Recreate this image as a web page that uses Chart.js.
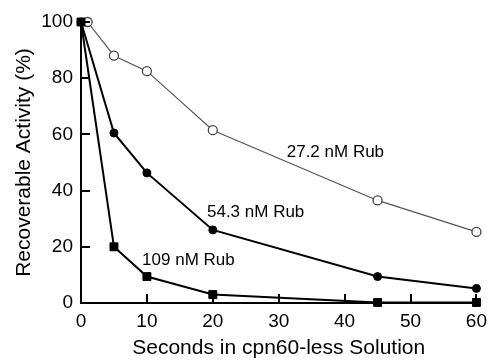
<!DOCTYPE html>
<html>
<head>
<meta charset="utf-8">
<script src="https://cdn.jsdelivr.net/npm/chart.js@4/dist/chart.umd.min.js"></script>
<style>
html,body{margin:0;padding:0;background:#fff;}
#wrap{width:494px;height:361px;}
</style>
</head>
<body>
<div id="wrap"><canvas id="c" width="494" height="361"></canvas></div>
<script>
// ---- data ----
const seconds27 = [1, 5, 10, 20, 45, 60];
const activity27 = [100, 88, 82.5, 61.5, 36.5, 25.3];
const seconds54 = [0, 5, 10, 20, 45, 60];
const activity54 = [100, 60.5, 46.3, 26, 9.4, 5.2];
const seconds109 = [0, 5, 10, 20, 45, 60];
const activity109 = [100, 20, 9.4, 3, 0.2, 0.2];
const xTicks = [0, 10, 20, 30, 40, 50, 60];
const yTicks = [0, 20, 40, 60, 80, 100];
const seriesLabels = ['27.2 nM Rub', '54.3 nM Rub', '109 nM Rub'];
// label anchor positions in data units (x, y)
const labelX = [38.6, 26.5, 16.3];
const labelY = [53.7, 32.4, 15.3];

const toXY = (xs, ys) => xs.map((x, i) => ({x: x, y: ys[i]}));

const FONT = "'Liberation Sans', Arial, Helvetica, sans-serif";

const inwardTicks = {
  id: 'inwardTicks',
  afterDatasetsDraw(chart) {
    const {ctx, scales: {x, y}, chartArea} = chart;
    ctx.save();
    ctx.strokeStyle = '#000';
    ctx.lineWidth = 2;
    ctx.beginPath();
    xTicks.forEach(v => {
      const px = Math.round(x.getPixelForValue(v));
      if (v === 0) return;
      ctx.moveTo(px, chartArea.bottom);
      ctx.lineTo(px, chartArea.bottom - 9);
    });
    yTicks.forEach(v => {
      const py = Math.round(y.getPixelForValue(v));
      if (v === 0) return;
      ctx.moveTo(chartArea.left, py);
      ctx.lineTo(chartArea.left + 9, py);
    });
    ctx.stroke();
    ctx.restore();
  }
};

const seriesText = {
  id: 'seriesText',
  afterDraw(chart) {
    const {ctx, scales: {x, y}} = chart;
    ctx.save();
    ctx.fillStyle = '#000';
    ctx.font = '17px ' + FONT;
    ctx.textAlign = 'center';
    ctx.textBaseline = 'middle';
    seriesLabels.forEach((t, i) => {
      ctx.fillText(t, x.getPixelForValue(labelX[i]), y.getPixelForValue(labelY[i]));
    });
    ctx.restore();
  }
};

new Chart(document.getElementById('c'), {
  type: 'scatter',
  data: {
    datasets: [
      {
        label: seriesLabels[0],
        data: toXY(seconds27, activity27),
        order: 2,
        showLine: true,
        borderColor: '#555',
        borderWidth: 1.2,
        pointStyle: 'circle',
        pointRadius: 4.5,
        pointBackgroundColor: '#fff',
        pointBorderColor: '#444',
        pointBorderWidth: 1.3,
        clip: false
      },
      {
        label: seriesLabels[1],
        data: toXY(seconds54, activity54),
        order: 1,
        showLine: true,
        borderColor: '#000',
        borderWidth: 2,
        pointStyle: 'circle',
        pointRadius: 4,
        pointBackgroundColor: '#000',
        pointBorderColor: '#000',
        pointBorderWidth: 1,
        clip: false
      },
      {
        label: seriesLabels[2],
        data: toXY(seconds109, activity109),
        order: 0,
        showLine: true,
        borderColor: '#000',
        borderWidth: 2,
        pointStyle: 'rect',
        pointRadius: 5.6,
        pointBackgroundColor: '#000',
        pointBorderColor: '#000',
        pointBorderWidth: 1,
        clip: false
      }
    ]
  },
  options: {
    responsive: false,
    animation: false,
    events: [],
    layout: {padding: {top: 22, right: 14, left: 0, bottom: 0}},
    plugins: {legend: {display: false}, tooltip: {enabled: false}},
    scales: {
      x: {
        type: 'linear',
        min: 0, max: 60,
        afterBuildTicks(s) { s.ticks = xTicks.map(v => ({value: v})); },
        afterFit(s) { s.height = 58; },
        grid: {display: true, drawOnChartArea: false, drawTicks: false},
        border: {display: true, color: '#000', width: 2},
        ticks: {color: '#000', font: {family: FONT, size: 19}, padding: 7, maxRotation: 0},
        title: {display: true, text: 'Seconds in cpn60-less Solution', color: '#000',
                font: {family: FONT, size: 21}, padding: {top: 0, bottom: 0}}
      },
      y: {
        type: 'linear',
        min: 0, max: 100,
        afterBuildTicks(s) { s.ticks = yTicks.map(v => ({value: v})); },
        afterFit(s) { s.width = 81; },
        grid: {display: true, drawOnChartArea: false, drawTicks: false},
        border: {display: true, color: '#000', width: 2},
        ticks: {color: '#000', font: {family: FONT, size: 19}, padding: 8},
        title: {display: true, text: 'Recoverable Activity (%)', color: '#000',
                font: {family: FONT, size: 21}, padding: {top: 12, bottom: 0}}
      }
    }
  },
  plugins: [inwardTicks, seriesText]
});
</script>
</body>
</html>
